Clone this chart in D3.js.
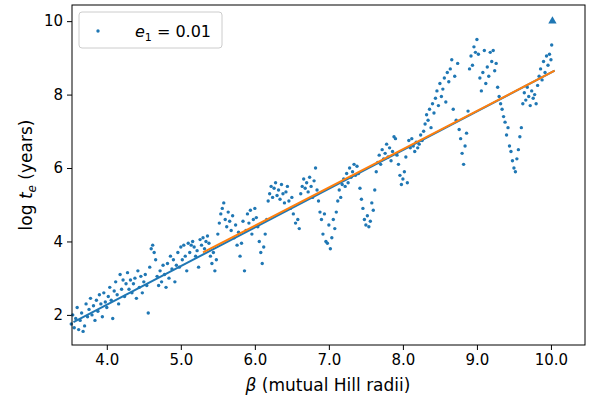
<!DOCTYPE html>
<html><head><meta charset="utf-8">
<script src="https://cdn.jsdelivr.net/npm/d3@7"></script>
<style>body{margin:0;background:#fff}text{font-family:"DejaVu Sans",sans-serif}</style>
</head><body><svg id="c" width="593" height="403"></svg>
<script>
// simulated points: [beta, log t_e]
var points = [
[3.52,1.75],[3.54,2.0],[3.56,1.65],[3.58,1.9],[3.6,2.2],[3.62,1.6],[3.64,1.85],[3.66,2.05],[3.68,1.55],[3.7,1.7],
[3.72,2.3],[3.74,1.95],[3.76,2.15],[3.78,2.45],[3.8,2.0],[3.82,2.25],[3.84,1.85],[3.86,2.4],[3.88,2.1],[3.9,2.55],
[3.92,2.3],[3.94,1.95],[3.96,2.6],[3.98,2.35],[4.0,2.2],[4.02,2.5],[4.04,2.75],[4.06,2.4],[4.08,1.9],[4.1,2.65],
[4.12,2.9],[4.14,2.55],[4.16,2.3],[4.18,3.1],[4.2,2.7],[4.22,2.95],[4.24,2.5],[4.26,2.85],[4.28,3.15],[4.3,2.7],
[4.32,2.95],[4.34,2.6],[4.36,2.85],[4.38,3.0],[4.4,2.45],[4.42,3.2],[4.44,2.75],[4.46,3.05],[4.48,2.6],[4.5,2.9],
[4.52,3.1],[4.54,2.8],[4.56,2.05],[4.58,3.3],[4.6,3.8],[4.62,3.9],[4.64,3.7],[4.66,3.5],[4.68,3.05],[4.7,2.8],
[4.72,3.2],[4.74,2.9],[4.76,3.35],[4.78,3.1],[4.8,2.75],[4.82,3.4],[4.84,3.0],[4.86,3.6],[4.88,3.25],[4.9,3.5],
[4.92,2.9],[4.94,3.35],[4.96,3.7],[4.98,3.3],[5.0,3.85],[5.02,3.5],[5.04,3.9],[5.06,3.6],[5.08,3.2],[5.1,3.95],
[5.12,3.7],[5.14,3.9],[5.16,4.0],[5.18,3.85],[5.2,3.6],[5.22,3.75],[5.24,3.3],[5.26,4.05],[5.28,3.9],[5.3,4.1],
[5.32,3.8],[5.34,4.0],[5.36,4.15],[5.38,3.95],[5.4,3.6],[5.42,3.4],[5.44,3.7],[5.46,3.2],[5.48,3.5],[5.5,4.2],
[5.52,4.5],[5.54,4.75],[5.56,4.9],[5.58,5.05],[5.6,4.6],[5.62,4.4],[5.64,4.8],[5.66,4.55],[5.68,4.3],[5.7,4.7],
[5.72,4.1],[5.74,4.45],[5.76,3.9],[5.78,4.25],[5.8,3.6],[5.82,3.95],[5.84,4.55],[5.86,3.2],[5.88,4.3],[5.9,4.75],
[5.92,4.5],[5.94,4.85],[5.96,4.2],[5.98,4.6],[6.0,4.9],[6.02,4.65],[6.04,4.4],[6.06,4.0],[6.08,3.7],[6.1,3.4],
[6.12,3.85],[6.14,4.2],[6.16,4.6],[6.18,5.1],[6.2,5.3],[6.22,5.5],[6.24,5.2],[6.26,5.45],[6.28,5.6],[6.3,5.25],
[6.32,5.4],[6.34,5.15],[6.36,5.55],[6.38,5.3],[6.4,5.05],[6.42,5.35],[6.44,5.5],[6.46,5.1],[6.48,4.9],[6.5,5.2],
[6.52,4.75],[6.55,4.5],[6.58,4.6],[6.6,4.35],[6.62,5.3],[6.64,5.5],[6.66,5.7],[6.68,5.45],[6.7,5.6],[6.72,5.35],
[6.74,5.75],[6.76,5.5],[6.78,5.2],[6.8,5.65],[6.82,6.0],[6.84,5.4],[6.86,5.1],[6.88,4.8],[6.9,4.6],[6.92,4.2],
[6.94,4.75],[6.96,4.0],[6.98,3.95],[7.0,4.45],[7.02,3.8],[7.04,4.1],[7.06,4.6],[7.08,4.35],[7.1,4.8],[7.12,5.1],
[7.14,5.4],[7.16,5.2],[7.18,5.55],[7.2,5.7],[7.22,5.5],[7.24,5.85],[7.26,5.6],[7.28,6.0],[7.3,5.75],[7.32,5.9],
[7.34,6.1],[7.36,5.8],[7.38,6.05],[7.4,5.85],[7.42,5.45],[7.44,5.15],[7.46,4.9],[7.48,4.6],[7.5,4.45],[7.52,4.7],
[7.54,4.4],[7.56,4.55],[7.58,5.05],[7.6,4.85],[7.62,5.4],[7.64,5.9],[7.66,6.15],[7.68,6.35],[7.7,6.1],[7.72,6.5],
[7.74,6.25],[7.76,6.4],[7.78,6.65],[7.8,6.3],[7.82,6.55],[7.84,6.2],[7.86,6.45],[7.88,6.85],[7.9,6.8],[7.92,6.35],
[7.94,6.1],[7.96,5.8],[7.98,5.55],[8.0,5.7],[8.02,5.9],[8.04,6.3],[8.06,5.6],[8.08,6.75],[8.1,6.55],[8.12,6.8],
[8.14,6.6],[8.16,6.45],[8.18,6.7],[8.2,6.55],[8.22,6.65],[8.24,6.9],[8.26,6.75],[8.28,7.0],[8.3,7.2],[8.32,7.45],
[8.34,7.3],[8.36,7.6],[8.38,7.1],[8.4,7.75],[8.42,7.5],[8.44,7.9],[8.46,8.1],[8.48,7.7],[8.5,8.3],[8.52,7.95],
[8.54,8.15],[8.56,8.45],[8.58,7.8],[8.6,8.6],[8.62,8.35],[8.64,8.7],[8.66,8.95],[8.68,7.6],[8.7,8.5],[8.72,7.3],
[8.74,8.85],[8.76,7.05],[8.78,6.8],[8.8,6.4],[8.82,6.1],[8.84,6.6],[8.86,6.95],[8.88,7.55],[8.9,8.7],[8.92,9.05],
[8.94,8.8],[8.96,9.3],[8.98,9.15],[9.0,9.5],[9.02,9.1],[9.04,8.45],[9.06,8.1],[9.08,8.6],[9.1,9.2],[9.12,8.3],
[9.14,8.75],[9.16,8.5],[9.18,9.15],[9.2,8.9],[9.22,9.2],[9.24,8.65],[9.26,8.85],[9.28,8.2],[9.3,7.95],[9.32,7.75],
[9.34,7.6],[9.36,7.4],[9.38,7.25],[9.4,6.9],[9.42,7.1],[9.44,6.6],[9.46,6.45],[9.48,6.2],[9.5,6.0],[9.52,5.9],
[9.54,6.25],[9.56,6.5],[9.58,6.85],[9.6,7.1],[9.62,7.75],[9.64,8.05],[9.66,7.85],[9.68,8.2],[9.7,7.95],[9.72,7.7],
[9.74,8.1],[9.76,7.9],[9.78,8.0],[9.8,7.75],[9.82,8.25],[9.84,8.5],[9.86,8.7],[9.88,8.4],[9.9,8.9],[9.92,8.6],
[9.94,9.05],[9.96,8.8],[9.98,9.1],[10.0,8.95],[10.01,9.35]
];
var topPoint = [10.02, 10.0];
var fitBeta = [3.55, 10.05];
var fitAll = [1.8, 8.65];
var fitOrangeBeta = [5.3, 10.05];
var fitOrange = [3.7, 8.65];
var xTicks = [4, 5, 6, 7, 8, 9, 10];
var yTicks = [2, 4, 6, 8, 10];

var svg = d3.select('#c');
var m = {l: 72, r: 585, t: 5, b: 345};
var x = d3.scaleLinear().domain([3.53, 10.46]).range([m.l, m.r]);
var y = d3.scaleLinear().domain([1.18, 10.44]).range([m.b, m.t]);

svg.append('g').attr('transform', 'translate(0,' + m.b + ')')
    .call(d3.axisBottom(x).tickValues(xTicks).tickSize(5).tickPadding(4))
    .call(function (g) { g.select('.domain').remove(); })
    .selectAll('text').attr('font-size', 15).attr('fill', '#000');
svg.append('g').attr('transform', 'translate(' + m.l + ',0)')
    .call(d3.axisLeft(y).tickValues(yTicks).tickSize(5).tickPadding(4))
    .call(function (g) { g.select('.domain').remove(); })
    .selectAll('text').attr('font-size', 15).attr('fill', '#000');

svg.append('g').selectAll('circle').data(points).enter().append('circle')
    .attr('cx', function (d) { return x(d[0]); })
    .attr('cy', function (d) { return y(d[1]); })
    .attr('r', 1.7).attr('fill', '#1f77b4');
svg.append('path').attr('d', d3.symbol(d3.symbolTriangle, 30)())
    .attr('transform', 'translate(' + x(topPoint[0]) + ',' + y(topPoint[1]) + ')')
    .attr('fill', '#1f77b4');

var line = d3.line().x(function (d) { return x(d[0]); }).y(function (d) { return y(d[1]); });
svg.append('path').attr('d', line(d3.zip(fitBeta, fitAll)))
    .attr('stroke', '#1f77b4').attr('stroke-width', 2).attr('fill', 'none');
svg.append('path').attr('d', line(d3.zip(fitOrangeBeta, fitOrange)))
    .attr('stroke', '#ff7f0e').attr('stroke-width', 2).attr('fill', 'none');

svg.append('rect').attr('x', m.l).attr('y', m.t).attr('width', m.r - m.l).attr('height', m.b - m.t)
    .attr('fill', 'none').attr('stroke', '#000').attr('stroke-width', 1);

// legend
svg.append('rect').attr('x', 79).attr('y', 12).attr('width', 143).attr('height', 36).attr('rx', 3)
    .attr('fill', '#fff').attr('stroke', '#ccc');
svg.append('circle').attr('cx', 98).attr('cy', 31).attr('r', 1.7).attr('fill', '#1f77b4');
var lt = svg.append('text').attr('x', 135).attr('y', 37).attr('font-size', 16);
lt.append('tspan').attr('font-style', 'italic').text('e');
lt.append('tspan').attr('font-size', 11).attr('dy', 4).text('1');
lt.append('tspan').attr('dy', -4).text(' = 0.01');

var xl = svg.append('text').attr('x', 328).attr('y', 391).attr('text-anchor', 'middle').attr('font-size', 17);
xl.append('tspan').attr('font-style', 'italic').text('β');
xl.append('tspan').text(' (mutual Hill radii)');
var yl = svg.append('text').attr('transform', 'translate(32,175) rotate(-90)').attr('text-anchor', 'middle').attr('font-size', 17);
yl.append('tspan').text('log ');
yl.append('tspan').attr('font-style', 'italic').text('t');
yl.append('tspan').attr('font-size', 12).attr('dy', 4).attr('font-style', 'italic').text('e');
yl.append('tspan').attr('dy', -4).text(' (years)');
</script></body></html>
